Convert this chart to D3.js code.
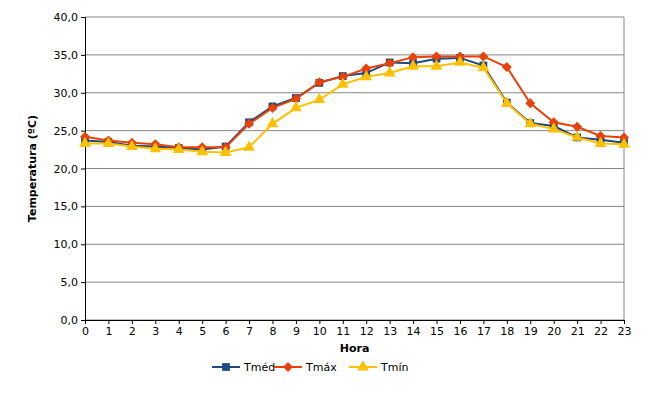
<!DOCTYPE html>
<html><head><meta charset="utf-8">
<script src="https://cdn.jsdelivr.net/npm/d3@7"></script>
<style>body{margin:0;background:#fff}text{font-family:"DejaVu Sans",Verdana,sans-serif}</style>
</head><body><svg id="c" width="669" height="404"></svg>
<script>
var hours = d3.range(0, 24);
var tmed = [23.7,23.5,23.0,22.9,22.7,22.5,22.9,26.1,28.2,29.3,31.3,32.2,32.6,34.0,33.9,34.5,34.6,33.6,28.7,26.0,25.6,24.1,23.8,23.4];
var tmax = [24.2,23.7,23.4,23.2,22.8,22.8,22.8,25.9,28.0,29.2,31.4,32.1,33.2,33.9,34.7,34.8,34.8,34.8,33.4,28.6,26.1,25.5,24.3,24.1];
var tmin = [23.3,23.3,22.9,22.6,22.5,22.2,22.1,22.8,25.9,28.0,29.1,31.1,32.1,32.6,33.5,33.5,34.0,33.3,28.6,25.9,25.2,24.1,23.3,23.2];
var yTicks = [0,5,10,15,20,25,30,35,40];

var svg = d3.select("#c");
var L = 85, R = 624, T = 17, B = 320;
var x = d3.scaleLinear().domain([0, 23]).range([L, R]);
var y = d3.scaleLinear().domain([0, 40]).range([B, T]);
var fmt = function(v){ return v.toFixed(1).replace(".", ","); };

svg.selectAll(".g").data(yTicks).enter().append("line")
  .attr("x1", L).attr("x2", R).attr("y1", y).attr("y2", y)
  .attr("stroke", "#868686").attr("stroke-width", 1);
svg.append("line").attr("x1", R).attr("x2", R).attr("y1", T).attr("y2", B).attr("stroke", "#868686");

var ya = svg.append("g").attr("transform", "translate(" + L + ",0)")
  .call(d3.axisLeft(y).tickValues(yTicks).tickFormat(fmt).tickSize(4).tickPadding(3));
var xa = svg.append("g").attr("transform", "translate(0," + B + ")")
  .call(d3.axisBottom(x).tickValues(hours).tickFormat(d3.format("d")).tickSize(4).tickPadding(3));
[ya, xa].forEach(function(a){
  a.select(".domain").attr("stroke", "#000");
  a.selectAll("line").attr("stroke", "#000");
  a.selectAll("text").attr("font-size", 11).attr("fill", "#000");
});

svg.append("text").attr("x", (L + R) / 2).attr("y", 352).attr("text-anchor", "middle")
  .attr("font-size", 11).attr("font-weight", "bold").text("Hora");
svg.append("text").attr("transform", "translate(36," + (T + B) / 2 + ") rotate(-90)")
  .attr("text-anchor", "middle").attr("font-size", 11).attr("font-weight", "bold").text("Temperatura (ºC)");

// square rotated 45° gives an even diamond like the original marker
var series = [
  {name: "Tméd", vals: tmed, color: "#1F497D", shape: d3.symbolSquare, size: 60, rot: 0},
  {name: "Tmáx", vals: tmax, color: "#E8420A", shape: d3.symbolSquare, size: 50, rot: 45},
  {name: "Tmín", vals: tmin, color: "#FFC000", shape: d3.symbolTriangle, size: 60, rot: 0}
];
var line = d3.line().x(function(d, i){ return x(i); }).y(function(d){ return y(d); });

series.forEach(function(s){
  svg.append("path").attr("d", line(s.vals)).attr("fill", "none")
    .attr("stroke", s.color).attr("stroke-width", 2);
  svg.selectAll(null).data(s.vals).enter().append("path")
    .attr("d", d3.symbol().type(s.shape).size(s.size))
    .attr("transform", function(d, i){ return "translate(" + x(i) + "," + y(d) + ") rotate(" + s.rot + ")"; })
    .attr("fill", s.color);
});

var legX = [212, 274, 349];
series.forEach(function(s, i){
  var g = svg.append("g").attr("transform", "translate(" + legX[i] + ",367)");
  g.append("line").attr("x1", 0).attr("x2", 28).attr("stroke", s.color).attr("stroke-width", 2);
  g.append("path").attr("d", d3.symbol().type(s.shape).size(s.size)).attr("transform", "translate(14,0) rotate(" + s.rot + ")").attr("fill", s.color);
  g.append("text").attr("x", 32).attr("y", 4).attr("font-size", 11).text(s.name);
});
</script></body></html>
